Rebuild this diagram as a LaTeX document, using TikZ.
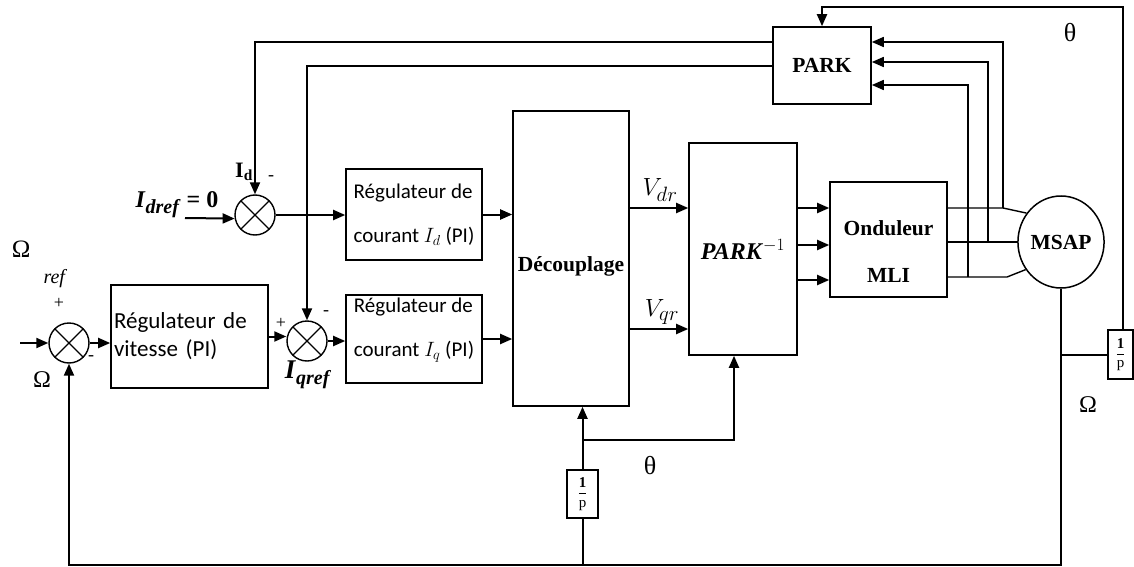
\documentclass[tikz,border=0pt]{standalone}
\usepackage{fontspec}
\setmainfont{Liberation Serif}
\newfontfamily\calib{Carlito}
\usetikzlibrary{arrows.meta,shapes.geometric}
\begin{document}
\begin{tikzpicture}[x=1pt,y=-1pt,line width=2pt,
  arr/.style={-{Triangle[length=12pt,width=10pt]}},
  blk/.style={draw,rectangle,line width=1.6pt,inner sep=1pt},
  phase/.style={line width=1.4pt},
  sumc/.style={draw,circle,minimum size=40pt,inner sep=0pt,line width=1.4pt,
    path picture={\draw[line width=1.4pt]
      (path picture bounding box.south west) -- (path picture bounding box.north east)
      (path picture bounding box.north west) -- (path picture bounding box.south east);}},
  lab/.style={inner sep=0pt},
  bigbf/.style={font=\fontsize{21.5}{24}\selectfont\bfseries},
  reg/.style={blk,align=left,inner sep=2pt,font=\calib\fontsize{21}{44}\selectfont},
  sign/.style={lab,font=\fontsize{18}{18}\selectfont},
  greek/.style={lab,font=\fontsize{26}{26}\selectfont},
  frac/.style={blk,inner sep=0pt,font=\fontsize{15}{15}\selectfont}]
\useasboundingbox (0,0) rectangle (1134,567);

% blocks
\node[blk,bigbf,minimum width=98pt,minimum height=77pt] (park) at (822,65.5) {PARK};
\node[blk,minimum width=117pt,minimum height=115pt,align=center,text height=85pt,
  font=\fontsize{21.5}{47}\selectfont\bfseries] (ond) at (888.5,239.5) {Onduleur\\MLI};
\node[draw,ellipse,line width=1.5pt,minimum width=82pt,minimum height=92pt,inner sep=0pt,bigbf] (msap) at (1061,242) {MSAP};
\node[blk,minimum width=108pt,minimum height=212pt,font=\fontsize{24}{26}\selectfont] (pinv) at (743,249)
  {\textbf{\textit{PARK}}$^{-1}$};
\node[blk,bigbf,minimum width=116pt,minimum height=295pt,text height=31pt] (dec) at (571,258.5) {Découplage};
\node[reg,minimum width=136pt,minimum height=91pt] (regd) at (414,214.5) {Régulateur de\\courant $I_d$ (PI)};
\node[reg,minimum width=136pt,minimum height=88pt,text depth=24pt] (regq) at (414,339) {Régulateur de\\courant $I_q$ (PI)};
\node[blk,align=left,inner sep=2pt,text width=151pt,font=\calib\fontsize{23}{28}\selectfont,minimum width=157pt,minimum height=103pt] (regv) at (189.5,336.5) {Régulateur de\\vitesse (PI)};
\node[sumc] (sumd) at (255,215) {};
\node[sumc] (sumq) at (307,341) {};
\node[sumc] (sumw) at (69,343) {};
\node[frac,minimum width=31pt,minimum height=48pt] (intb) at (582.5,494) {$\displaystyle{\mathbf{1}\over\mathrm{p}}$};
\node[frac,minimum width=25pt,minimum height=49pt] (intr) at (1120.5,354.5) {$\displaystyle{\mathbf{1}\over\mathrm{p}}$};

% labels
\node[greek] (th1) at (1070,33) {θ};
\node[greek] (th2) at (650,466) {θ};
\node[lab,font=\fontsize{24}{24}\selectfont] (om1) at (1088,405) {Ω};
\node[lab,font=\fontsize{24}{24}\selectfont] (om2) at (42,380) {Ω};
\node[lab,anchor=base west,font=\fontsize{25}{25}\selectfont] (omref) at (11,257)
  {Ω\hspace{13pt}\raisebox{-26pt}{\fontsize{20}{20}\selectfont\itshape ref}};
\node[sign] (pw) at (59,303) {+};
\node[sign] (mw) at (91,358) {-};
\node[sign] (pq) at (281,323) {+};
\node[sign] (mq) at (326,313) {-};
\node[sign] (md) at (271,178) {-};
\node[lab,font=\fontsize{22}{22}\selectfont\bfseries] (idl) at (244,172) {I\textsubscript{d}};
\node[lab,font=\fontsize{24}{24}\selectfont\bfseries] (idref) at (177,205)
  {\textit{I}\raisebox{-6pt}{\fontsize{20}{20}\selectfont\textit{dref}} = 0};
\node[lab,font=\fontsize{27}{27}\selectfont\bfseries] (iqref) at (308,375)
  {\textit{I}\raisebox{-6pt}{\fontsize{20}{20}\selectfont\textit{qref}}};
\node[lab,font=\fontsize{28}{28}\selectfont] (vdrl) at (660,190) {$V_{dr}$};
\node[lab,font=\fontsize{28}{28}\selectfont] (vqrl) at (662,312) {$V_{qr}$};

% coordinates
\coordinate (tr) at (1123,7);
\coordinate (fd) at (255,42);
\coordinate (fq) at (307,66);
\coordinate (p1) at (1003,208);
\coordinate (p2) at (988,242);
\coordinate (p3) at (968,277);
\coordinate (p3b) at (1007,277);
\coordinate (k1) at (1003,42);
\coordinate (k2) at (988,62);
\coordinate (k3) at (968,85);
\coordinate (idin) at (185,218);
\coordinate (wl) at (20,343);
\coordinate (vd) at (0,208);
\coordinate (vq) at (0,329);
\coordinate (o1) at (0,208);
\coordinate (o2) at (0,245);
\coordinate (o3) at (0,280);
\coordinate (bl) at (69,565);
\coordinate (br) at (1061,565);
\coordinate (jb) at (582.5,440);
\coordinate (jc) at (734,440);

% feedback from PARK / theta
\draw[arr] (tr |- intr.north) -- (tr) -- (tr -| park.north) -- (park.north);
\draw[arr] (fd -| park.west) -- (fd) -- (sumd.north);
\draw[arr] (fq -| park.west) -- (fq) -- (sumq.north);

% phases
\draw[phase] (p1 -| ond.east) -- (p1) -- (msap.140);
\draw[phase] (p2 -| ond.east) -- (p2 -| msap.west);
\draw[phase] (p3 -| ond.east) -- (p3b) -- (msap.218);
\draw[arr,line width=1.7pt] (p1) -- (k1) -- (k1 -| park.east);
\draw[arr,line width=1.7pt] (p2) -- (k2) -- (k2 -| park.east);
\draw[arr,line width=1.7pt] (p3) -- (k3) -- (k3 -| park.east);

% forward chain
\draw[arr] (idin) -- (sumd.190);
\draw[arr] (sumd.east) -- (sumd.east -| regd.west);
\draw[arr] (wl) -- (sumw.west);
\draw[arr] (sumw.east) -- (sumw.east -| regv.west);
\draw[arr] (regv.east) -- (regv.east -| sumq.west);
\draw[arr] (sumq.east) -- (sumq.east -| regq.west);
\draw[arr] (regd.east) -- (regd.east -| dec.west);
\draw[arr] (regq.east) -- (regq.east -| dec.west);
\draw[arr] (vd -| dec.east) -- (vd -| pinv.west);
\draw[arr] (vq -| dec.east) -- (vq -| pinv.west);
\draw[arr] (o1 -| pinv.east) -- (o1 -| ond.west);
\draw[arr] (o2 -| pinv.east) -- (o2 -| ond.west);
\draw[arr] (o3 -| pinv.east) -- (o3 -| ond.west);

% bottom feedback
\draw[arr] (msap.south) -- (br) -- (bl) -- (sumw.south);
\draw (msap.south |- intr.west) -- (intr.west);
\draw (intb.south) -- (intb.south |- bl);
\draw[arr] (intb.north) -- (intb.north |- dec.south);
\draw[arr] (jb) -- (jc) -- (jc |- pinv.south);
\end{tikzpicture}
\end{document}
